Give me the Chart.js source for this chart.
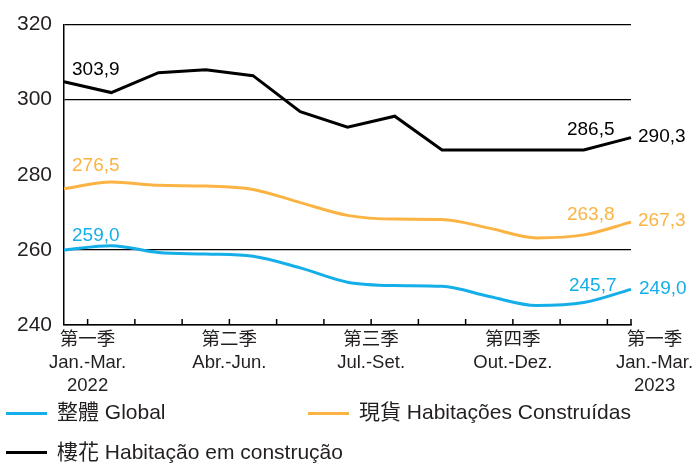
<!DOCTYPE html>
<html>
<head>
<meta charset="utf-8">
<script src="https://cdn.jsdelivr.net/npm/chart.js@4.4.0/dist/chart.umd.min.js"></script>
<style>
  body { margin: 0; background: #fff; }
  #wrap { position: relative; width: 692px; height: 464px; }
  #legend {
    position: absolute; left: 0; top: 0; width: 692px; height: 464px;
    pointer-events: none;
    font-family: "Liberation Sans", "Noto Sans CJK TC", sans-serif;
    font-size: 21px; color: #231f20;
  }
  .item { position: absolute; white-space: nowrap; height: 24px; line-height: 24px; }
  .swatch { position: absolute; left: 0; width: 41px; height: 3px; }
  .text { position: absolute; left: 51px; top: 0; }
</style>
</head>
<body>
<div id="wrap">
  <canvas id="chart" width="692" height="464"></canvas>
  <div id="legend"></div>
</div>
<script>
// meses (jan 2022 - jan 2023)
const months = ["2022-01", "2022-02", "2022-03", "2022-04", "2022-05", "2022-06", "2022-07",
  "2022-08", "2022-09", "2022-10", "2022-11", "2022-12", "2023-01"];

// rótulos do eixo x (só no início de cada trimestre)
const quarterIndex = [0, 3, 6, 9, 12];
const quarterTicks = [
  ["第一季", "Jan.-Mar.", "2022"],
  ["第二季", "Abr.-Jun."],
  ["第三季", "Jul.-Set."],
  ["第四季", "Out.-Dez."],
  ["第一季", "Jan.-Mar.", "2023"],
];

const yTicks = [240, 260, 280, 300, 320];

// séries
const seriesNames = ["整體 Global", "現貨 Habitações Construídas", "樓花 Habitação em construção"];
const seriesColors = ["#14aee8", "#fbb444", "#000000"];

const globalValues = [260.0, 261.1, 259.3, 258.9, 258.3, 255.2, 251.4, 250.5, 250.3, 247.6, 245.2, 246.0, 249.5];
const builtValues = [276.3, 278.1, 277.2, 277.0, 276.1, 272.6, 269.2, 268.2, 268.1, 265.8, 263.2, 264.0, 267.4];
const constructionValues = [304.8, 301.9, 307.2, 308.0, 306.4, 296.8, 292.7, 295.6, 286.6, 286.6, 286.6, 286.6, 289.9];

// valores escritos no gráfico
const globalNotes = ["259,0", "245,7", "249,0"];
const builtNotes = ["276,5", "263,8", "267,3"];
const constructionNotes = ["303,9", "286,5", "290,3"];
const noteIndex = [0, 11, 12];

const FONT = '"Liberation Sans", "Noto Sans CJK TC", sans-serif';

// marcas do eixo x entre os meses
const tickMarks = {
  id: "tickMarks",
  afterDraw(chart) {
    const x = chart.scales.x;
    const area = chart.chartArea;
    const c = chart.ctx;
    c.save();
    c.strokeStyle = "#000";
    c.lineWidth = 1.5;
    c.beginPath();
    for (let i = 0; i < months.length; i++) {
      const p = i < months.length - 1
        ? (x.getPixelForValue(i) + x.getPixelForValue(i + 1)) / 2
        : x.getPixelForValue(i);
      c.moveTo(p, area.bottom);
      c.lineTo(p, area.bottom - 6);
    }
    c.stroke();
    c.restore();
  },
};

// rótulos de valores
const valueNotes = {
  id: "valueNotes",
  afterDatasetsDraw(chart) {
    const c = chart.ctx;
    c.save();
    c.font = "19px " + FONT;
    c.textBaseline = "middle";
    chart.data.datasets.forEach((ds, d) => {
      const meta = chart.getDatasetMeta(d);
      c.fillStyle = ds.borderColor;
      ds.notes.forEach((text, k) => {
        const pt = meta.data[noteIndex[k]];
        const pos = ds.notePos[k];
        c.textAlign = pos.align;
        c.fillText(text, pt.x + pos.dx, pt.y + pos.dy);
      });
    });
    c.restore();
  },
};

const ctx = document.getElementById("chart").getContext("2d");
new Chart(ctx, {
  type: "line",
  data: {
    labels: months,
    datasets: [
      {
        label: seriesNames[0],
        data: globalValues,
        borderColor: seriesColors[0],
        borderWidth: 3,
        cubicInterpolationMode: "monotone",
        pointRadius: 0,
        notes: globalNotes,
        notePos: [
          { align: "left", dx: 8, dy: -14 },
          { align: "center", dx: 9, dy: -17 },
          { align: "left", dx: 8, dy: -1 },
        ],
      },
      {
        label: seriesNames[1],
        data: builtValues,
        borderColor: seriesColors[1],
        borderWidth: 3,
        cubicInterpolationMode: "monotone",
        pointRadius: 0,
        notes: builtNotes,
        notePos: [
          { align: "left", dx: 8, dy: -23 },
          { align: "center", dx: 7, dy: -20 },
          { align: "left", dx: 7, dy: -1 },
        ],
      },
      {
        label: seriesNames[2],
        data: constructionValues,
        borderColor: seriesColors[2],
        borderWidth: 3,
        tension: 0,
        pointRadius: 0,
        notes: constructionNotes,
        notePos: [
          { align: "left", dx: 8, dy: -12 },
          { align: "center", dx: 7, dy: -20 },
          { align: "left", dx: 7, dy: -1 },
        ],
      },
    ],
  },
  options: {
    responsive: false,
    animation: false,
    layout: { padding: { top: 22, right: 61, bottom: 69, left: 0 } },
    plugins: {
      legend: { display: false },
      tooltip: { enabled: false },
    },
    scales: {
      x: {
        offset: false,
        afterFit: (scale) => { scale.height = 70; },
        grid: { display: true, drawOnChartArea: false, drawTicks: false },
        border: { display: true, color: "#000", width: 1.5 },
        ticks: {
          autoSkip: false,
          maxRotation: 0,
          padding: 4,
          labelOffset: 23.6,
          color: "#231f20",
          font: { family: FONT, size: 18.5, lineHeight: 1.22 },
          callback: (value, index) => {
            const q = quarterIndex.indexOf(index);
            return q >= 0 ? quarterTicks[q] : "";
          },
        },
      },
      y: {
        min: yTicks[0],
        max: yTicks[yTicks.length - 1],
        afterFit: (scale) => { scale.width = 64; },
        afterBuildTicks: (scale) => { scale.ticks = yTicks.map((v) => ({ value: v })); },
        grid: {
          drawTicks: false,
          lineWidth: 1.3,
          color: (c) => (c.tick && c.tick.value === 280 ? "rgba(0,0,0,0)" : "#000"),
        },
        border: { display: true, color: "#000", width: 1.5 },
        ticks: {
          padding: 12,
          color: "#231f20",
          font: { family: FONT, size: 21 },
        },
      },
    },
  },
  plugins: [tickMarks, valueNotes],
});

// legenda
const legendPos = [
  { left: 6, top: 400, line: 413 },
  { left: 308, top: 400, line: 413 },
  { left: 6, top: 440, line: 452 },
];
const legend = document.getElementById("legend");
seriesNames.forEach((name, i) => {
  const item = document.createElement("div");
  item.className = "item";
  item.style.left = legendPos[i].left + "px";
  item.style.top = legendPos[i].top + "px";
  const sw = document.createElement("span");
  sw.className = "swatch";
  sw.style.background = seriesColors[i];
  sw.style.top = (legendPos[i].line - legendPos[i].top - 1) + "px";
  const label = document.createElement("span");
  label.className = "text";
  label.textContent = name;
  item.appendChild(sw);
  item.appendChild(label);
  legend.appendChild(item);
});
</script>
</body>
</html>
